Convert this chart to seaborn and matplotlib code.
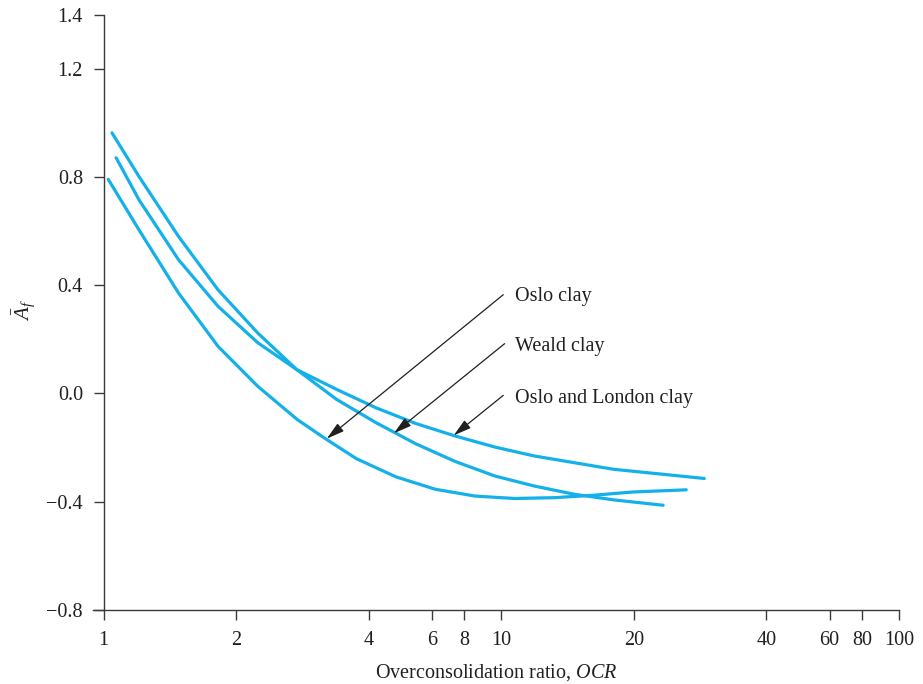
"""
Variation of A_f with overconsolidation ratio (Oslo, Weald, London clays).
"""

import numpy as np
import pandas as pd
import seaborn as sns
import matplotlib.pyplot as plt

# OCR values and their place along the drawn x axis (1-2-4-10-20-40-100 evenly spaced)
OCR_KNOTS = [0.5, 1, 2, 4, 6, 8, 10, 20, 40, 60, 80, 100, 200]
KNOT_POS = [-1, 0, 1, 2, 2.476, 2.72, 3, 4, 5, 5.476, 5.72, 6, 7]
X_TICKS = [1, 2, 4, 6, 8, 10, 20, 40, 60, 80, 100]
Y_TICKS = [-0.8, -0.4, 0.0, 0.4, 0.8, 1.2, 1.4]

# curves
weald_ocr = [1.044, 1.203, 1.479, 1.818, 2.236, 2.745, 3.38, 4.19, 5.41, 7.37, 9.62, 11.88, 14.6, 17.96, 23.3]
weald_af = [0.963, 0.801, 0.580, 0.383, 0.224, 0.088, -0.022, -0.108, -0.186, -0.251, -0.305, -0.342, -0.372, -0.393, -0.413]

oslo_london_ocr = [1.067, 1.203, 1.479, 1.818, 2.236, 2.745, 3.38, 4.19, 5.41, 7.37, 9.62, 11.88, 17.96, 28.9]
oslo_london_af = [0.871, 0.715, 0.494, 0.322, 0.188, 0.088, 0.015, -0.053, -0.111, -0.157, -0.198, -0.231, -0.280, -0.314]

oslo_ocr = [1.024, 1.203, 1.479, 1.818, 2.236, 2.75, 3.18, 3.75, 4.76, 6.19, 8.53, 10.7, 13.2, 16.2, 19.9, 26.3]
oslo_af = [0.791, 0.604, 0.371, 0.174, 0.027, -0.096, -0.166, -0.241, -0.308, -0.354, -0.379, -0.388, -0.385, -0.376, -0.364, -0.356]

# annotations
LABELS = ['Oslo clay', 'Weald clay', 'Oslo and London clay']
label_ocr = [10.75, 10.75, 10.75]
label_af = [0.340, 0.156, -0.034]
tail_ocr = [10.1, 10.17, 10.1]
tail_af = [0.365, 0.184, -0.007]
head_ocr = [3.21, 4.70, 7.28]
head_af = [-0.167, -0.147, -0.155]

LINE_COLOR = '#14B0EA'
INK = '#231F20'


def forward(x):
    x = np.clip(np.asarray(x, dtype=float), 1e-3, None)
    return np.interp(np.log10(x), np.log10(OCR_KNOTS), KNOT_POS)


def inverse(p):
    return 10 ** np.interp(p, KNOT_POS, np.log10(OCR_KNOTS))


sns.set_theme(style='ticks')
plt.rcParams['font.family'] = ['Liberation Serif', 'DejaVu Serif']
plt.rcParams['mathtext.fontset'] = 'custom'
plt.rcParams['mathtext.rm'] = 'Liberation Serif'
plt.rcParams['mathtext.it'] = 'Liberation Serif:italic'

df = pd.concat([
    pd.DataFrame({'ocr': weald_ocr, 'af': weald_af, 'clay': 'Weald clay'}),
    pd.DataFrame({'ocr': oslo_london_ocr, 'af': oslo_london_af, 'clay': 'Oslo and London clay'}),
    pd.DataFrame({'ocr': oslo_ocr, 'af': oslo_af, 'clay': 'Oslo clay'}),
])

fig = plt.figure(figsize=(9.23, 6.84), dpi=100)
ax = fig.add_axes([0.1009, 0.1082, 0.8731, 0.8705])
ax.set_xscale('function', functions=(forward, inverse))

sns.lineplot(data=df, x='ocr', y='af', units='clay', estimator=None, sort=False,
             color=LINE_COLOR, linewidth=2.3, ax=ax, legend=False,
             solid_joinstyle='round')

for lab, lx, ly, tx, ty, hx, hy in zip(LABELS, label_ocr, label_af, tail_ocr, tail_af, head_ocr, head_af):
    ax.annotate('', xy=(hx, hy), xytext=(tx, ty),
                arrowprops=dict(arrowstyle='-|>,head_length=0.9,head_width=0.25',
                                color=INK, lw=0.9, shrinkA=0, shrinkB=0))
    ax.text(lx, ly, lab, fontsize=14.5, color=INK, ha='left', va='baseline')

ax.set_xlim(inverse(-0.08), 100)
ax.set_ylim(-0.8, 1.4)
ax.set_xticks(X_TICKS)
ax.set_xticklabels([str(t) for t in X_TICKS])
ax.minorticks_off()
ax.set_yticks(Y_TICKS)
ax.set_yticklabels(['\u22120.8', '\u22120.4', '0.0', '0.4', '0.8', '1.2', '1.4'])

sns.despine(ax=ax)
ax.spines['left'].set_position(('data', 1))
for s in ['left', 'bottom']:
    ax.spines[s].set_color('#3a3a3a')
    ax.spines[s].set_linewidth(1.0)
ax.tick_params(axis='both', direction='out', length=7.5, width=1.0, color='#3a3a3a',
               labelsize=14.5, labelcolor=INK, pad=7.5)

ax.set_xlabel('Overconsolidation ratio, $OCR$', fontsize=14.5, color=INK, labelpad=9)
ax.set_ylabel(r'$\bar{A}_f$', fontsize=15, color=INK)
ax.yaxis.set_label_coords(-0.07, 0.503)

fig.savefig('out.png', dpi=100)
